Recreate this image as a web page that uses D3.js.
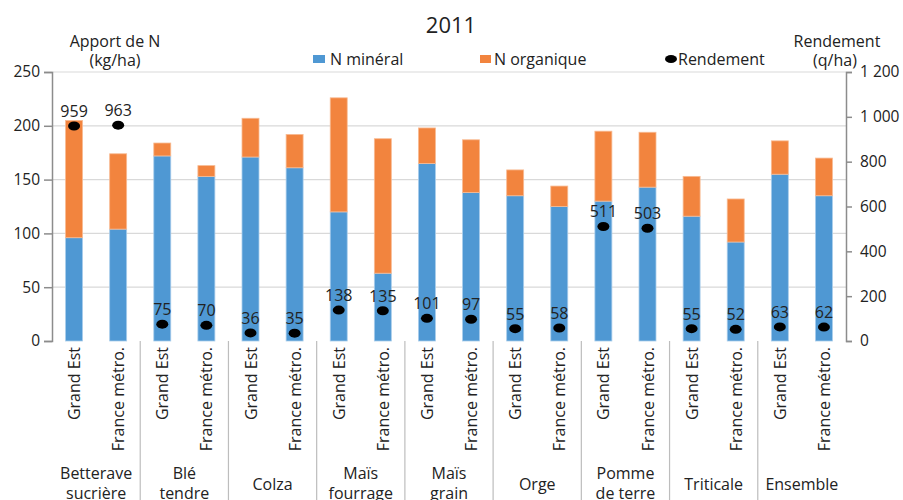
<!DOCTYPE html>
<html lang="fr">
<head>
  <meta charset="UTF-8" />
  <title>2011</title>
  <script src="https://d3js.org/d3.v7.min.js"></script>
  <style>
    body { margin: 0; background: #fff; }
    text { font-family: "Open Sans", sans-serif; fill: #222; }
  </style>
</head>
<body>
<script>

const WIDTH = 903;
const HEIGHT = 500;
const BLUE = "#4f98d3";
const ORANGE = "#f2843e";

// data
const crops = ["Betterave\nsucrière", "Blé\ntendre", "Colza", "Maïs\nfourrage", "Maïs\ngrain",
               "Orge", "Pomme\nde terre", "Triticale", "Ensemble"];
const zones = ["Grand Est", "France métro."];
// one value per bar, Grand Est then France métro. for each crop
const nMineral   = [96, 104, 172, 153, 171, 161, 120, 63, 165, 138, 135, 125, 130, 143, 116, 92, 155, 135];
const nOrganique = [109, 70, 12, 10, 36, 31, 106, 125, 33, 49, 24, 19, 65, 51, 37, 40, 31, 35];
const rendement  = [959, 963, 75, 70, 36, 35, 138, 135, 101, 97, 55, 58, 511, 503, 55, 52, 63, 62];
const leftTicks  = [0, 50, 100, 150, 200, 250];
const rightTicks = [0, 200, 400, 600, 800, 1000, 1200];

const bars = nMineral.map((m, i) => ({
  crop: crops[Math.floor(i / 2)],
  zone: zones[i % 2],
  mineral: m,
  organique: nOrganique[i],
  rendement: rendement[i]
}));

const M = {left: 52, right: 846, top: 72, bottom: 341};

const svg = d3.select("body").append("svg")
    .attr("width", WIDTH)
    .attr("height", HEIGHT);

const x0 = d3.scaleBand().domain(crops).range([M.left, M.right]);
const x1 = d3.scaleBand().domain(zones).range([0, x0.bandwidth()])
    .paddingInner(0.615).paddingOuter(0.3075);
const yL = d3.scaleLinear().domain([0, 250]).range([M.bottom, M.top]);
const yR = d3.scaleLinear().domain([0, 1200]).range([M.bottom, M.top]);

// grid
svg.append("g")
    .selectAll("line")
    .data(leftTicks.slice(1))
    .join("line")
        .attr("x1", M.left).attr("x2", M.right)
        .attr("y1", d => yL(d)).attr("y2", d => yL(d))
        .attr("stroke", "#d9d9d9")
        .attr("stroke-width", 1.2);

// left axis
svg.append("g")
    .attr("transform", `translate(${M.left},0)`)
    .call(d3.axisLeft(yL).tickValues(leftTicks).tickSize(8).tickPadding(4))
    .call(g => g.selectAll(".domain").attr("stroke", "#8c8c8c").attr("stroke-width", 1.5))
    .call(g => g.selectAll(".tick line").attr("stroke", "#8c8c8c").attr("stroke-width", 1.5))
    .call(g => g.selectAll(".tick text").attr("font-size", 15.5).attr("fill", "#222")
        .attr("font-family", "Open Sans, sans-serif"));

// right axis
const fmt = v => d3.format(",")(v).replace(",", " ");
svg.append("g")
    .attr("transform", `translate(${M.right},0)`)
    .call(d3.axisRight(yR).tickValues(rightTicks).tickSize(6).tickPadding(8).tickFormat(fmt))
    .call(g => g.selectAll(".domain").attr("stroke", "#8c8c8c").attr("stroke-width", 1.5))
    .call(g => g.selectAll(".tick line").attr("stroke", "#8c8c8c").attr("stroke-width", 1.5))
    .call(g => g.selectAll(".tick text").attr("font-size", 15.5).attr("fill", "#222")
        .attr("font-family", "Open Sans, sans-serif"));

// bars
const barG = svg.append("g");
const bx = d => x0(d.crop) + x1(d.zone);
barG.selectAll("rect.min")
    .data(bars)
    .join("rect")
        .attr("class", "min")
        .attr("x", bx)
        .attr("width", x1.bandwidth())
        .attr("y", d => yL(d.mineral))
        .attr("height", d => yL(0) - yL(d.mineral))
        .attr("fill", BLUE)
        .attr("stroke", "#a9cdeb")
        .attr("stroke-width", 0.8);
barG.selectAll("rect.org")
    .data(bars)
    .join("rect")
        .attr("class", "org")
        .attr("x", bx)
        .attr("width", x1.bandwidth())
        .attr("y", d => yL(d.mineral + d.organique))
        .attr("height", d => yL(d.mineral) - yL(d.mineral + d.organique))
        .attr("fill", ORANGE)
        .attr("stroke", "#f8bb93")
        .attr("stroke-width", 0.8);

// rendement points + labels
const cx = d => bx(d) + x1.bandwidth() / 2;
svg.append("g")
    .selectAll("ellipse")
    .data(bars)
    .join("ellipse")
        .attr("cx", cx)
        .attr("cy", d => yR(d.rendement))
        .attr("rx", 6)
        .attr("ry", 4.5)
        .attr("fill", "#000");
svg.append("g")
    .selectAll("text")
    .data(bars)
    .join("text")
        .attr("x", cx)
        .attr("y", d => yR(d.rendement) - 9)
        .attr("text-anchor", "middle")
        .attr("font-size", 16)
        .text(d => d.rendement);

// x labels (zones, rotated)
svg.append("g")
    .selectAll("text")
    .data(bars)
    .join("text")
        .attr("transform", d => `translate(${cx(d) + 6},${M.bottom + 6}) rotate(-90)`)
        .attr("text-anchor", "end")
        .attr("font-size", 16)
        .text(d => d.zone);

// group separators
svg.append("g")
    .selectAll("line")
    .data(crops.slice(1))
    .join("line")
        .attr("x1", d => x0(d)).attr("x2", d => x0(d))
        .attr("y1", M.bottom).attr("y2", HEIGHT)
        .attr("stroke", "#bdbdbd")
        .attr("stroke-width", 1.2);

// group labels
svg.append("g")
    .selectAll("text")
    .data(crops)
    .join("text")
        .attr("text-anchor", "middle")
        .attr("font-size", 16)
        .attr("x", d => x0(d) + x0.bandwidth() / 2)
        .attr("y", d => d.includes("\n") ? 479 : 490)
        .each(function (d) {
            d3.select(this).selectAll("tspan")
                .data(d.split("\n"))
                .join("tspan")
                    .attr("x", x0(d) + x0.bandwidth() / 2)
                    .attr("dy", (t, i) => i ? 20 : 0)
                    .text(t => t);
        });

// title
svg.append("text")
    .attr("x", 451).attr("y", 33)
    .attr("text-anchor", "middle")
    .attr("font-size", 22)
    .text("2011");

// axis titles
svg.append("text").attr("x", 115).attr("y", 47).attr("text-anchor", "middle")
    .attr("font-size", 16).text("Apport de N");
svg.append("text").attr("x", 115).attr("y", 66).attr("text-anchor", "middle")
    .attr("font-size", 16).text("(kg/ha)");
svg.append("text").attr("x", 837).attr("y", 47).attr("text-anchor", "middle")
    .attr("font-size", 16).text("Rendement");
svg.append("text").attr("x", 835).attr("y", 66).attr("text-anchor", "middle")
    .attr("font-size", 16).text("(q/ha)");

// legend
const legend = svg.append("g");
legend.append("rect").attr("x", 313).attr("y", 55).attr("width", 12).attr("height", 8).attr("fill", BLUE);
legend.append("text").attr("x", 330).attr("y", 65).attr("font-size", 16).text("N minéral");
legend.append("rect").attr("x", 480).attr("y", 55).attr("width", 11).attr("height", 8).attr("fill", ORANGE);
legend.append("text").attr("x", 494).attr("y", 65).attr("font-size", 16).text("N organique");
legend.append("ellipse").attr("cx", 671).attr("cy", 59).attr("rx", 6).attr("ry", 4).attr("fill", "#000");
legend.append("text").attr("x", 678).attr("y", 65).attr("font-size", 16).text("Rendement");

</script>
</body>
</html>
